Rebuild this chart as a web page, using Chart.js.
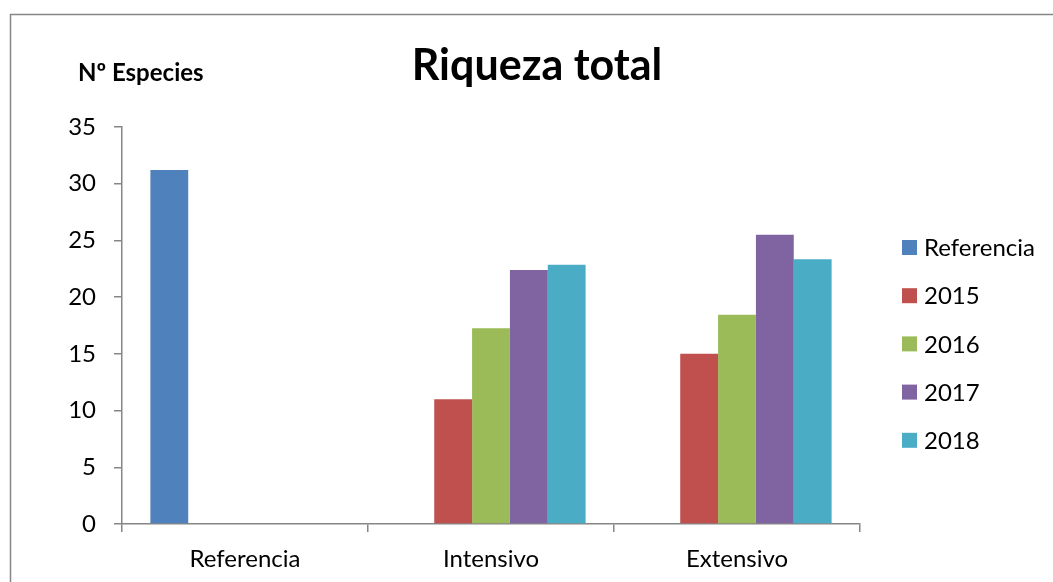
<!DOCTYPE html>
<html>
<head>
<meta charset="utf-8">
<title>Riqueza total</title>
<script src="https://cdn.jsdelivr.net/npm/chart.js@4/dist/chart.umd.min.js"></script>
<style>
    body { margin: 0; background: #fff; }
    #wrap { width: 1053px; height: 582px; }
</style>
</head>
<body>
<div id="wrap"><canvas id="chart" width="1053" height="582"></canvas></div>
<script>
// Chart data
const categories = ['Referencia', 'Intensivo', 'Extensivo'];
const seriesNames = ['Referencia', '2015', '2016', '2017', '2018'];
const referencia = [31.2, null, null];
const s2015 = [null, 11, 15];
const s2016 = [null, 17.25, 18.45];
const s2017 = [null, 22.4, 25.5];
const s2018 = [null, 22.85, 23.35];
const yMin = 0;
const yMax = 35;
const yStep = 5;

const seriesValues = [referencia, s2015, s2016, s2017, s2018];
const seriesColors = ['#4F81BD', '#C0504D', '#9BBB59', '#8064A2', '#4BACC6'];

const FONT = 'Lato, "Open Sans", sans-serif';
const AXIS_COLOR = '#868686';

// Frame, titles and legend drawn on the canvas
const decorations = {
    id: 'decorations',
    beforeDraw(chart) {
        const ctx = chart.ctx;
        ctx.save();
        ctx.fillStyle = '#fff';
        ctx.fillRect(0, 0, chart.width, chart.height);
        ctx.strokeStyle = AXIS_COLOR;
        ctx.lineWidth = 1.5;
        ctx.beginPath();
        ctx.moveTo(10.5, chart.height);
        ctx.lineTo(10.5, 14.5);
        ctx.lineTo(chart.width, 14.5);
        ctx.stroke();
        ctx.restore();
    },
    afterDraw(chart) {
        const ctx = chart.ctx;
        ctx.save();
        ctx.fillStyle = '#000';
        ctx.textBaseline = 'alphabetic';

        ctx.font = 'bold 43px ' + FONT;
        ctx.textAlign = 'center';
        ctx.fillText('Riqueza total', 537, 80);

        ctx.font = 'bold 24px ' + FONT;
        ctx.textAlign = 'left';
        ctx.fillText('Nº Especies', 78, 81);

        // legend
        ctx.font = '24px ' + FONT;
        ctx.textBaseline = 'middle';
        chart.data.datasets.forEach((ds, i) => {
            const cy = 247.5 + i * 48.2;
            ctx.fillStyle = ds.backgroundColor;
            ctx.fillRect(902, cy - 7.5, 15, 15);
            ctx.fillStyle = '#000';
            ctx.fillText(ds.label, 924, cy + 1);
        });
        ctx.restore();
    }
};

new Chart(document.getElementById('chart'), {
    type: 'bar',
    data: {
        labels: categories,
        datasets: seriesNames.map((name, i) => ({
            label: name,
            data: seriesValues[i],
            backgroundColor: seriesColors[i],
            borderWidth: 0,
            barPercentage: 1,
            categoryPercentage: 5 / 6.5
        }))
    },
    options: {
        responsive: false,
        animation: false,
        layout: {
            padding: { left: 10, top: 127, right: 193, bottom: 0 }
        },
        plugins: {
            legend: { display: false },
            title: { display: false },
            tooltip: { enabled: false }
        },
        scales: {
            x: {
                grid: {
                    display: true,
                    drawOnChartArea: false,
                    drawTicks: true,
                    tickLength: 8,
                    color: AXIS_COLOR,
                    lineWidth: 1.5
                },
                border: { display: true, color: AXIS_COLOR, width: 1.5 },
                ticks: {
                    color: '#000',
                    font: { family: FONT, size: 24 },
                    padding: 13
                },
                afterFit(scale) { scale.height = 58; }
            },
            y: {
                min: yMin,
                max: yMax,
                grid: {
                    display: true,
                    drawOnChartArea: false,
                    drawTicks: true,
                    tickLength: 8,
                    color: AXIS_COLOR,
                    lineWidth: 1.5
                },
                border: { display: true, color: AXIS_COLOR, width: 1.5 },
                ticks: {
                    stepSize: yStep,
                    color: '#000',
                    font: { family: FONT, size: 24 },
                    padding: 18
                },
                afterFit(scale) { scale.width = 112; }
            }
        }
    },
    plugins: [decorations]
});
</script>
</body>
</html>
